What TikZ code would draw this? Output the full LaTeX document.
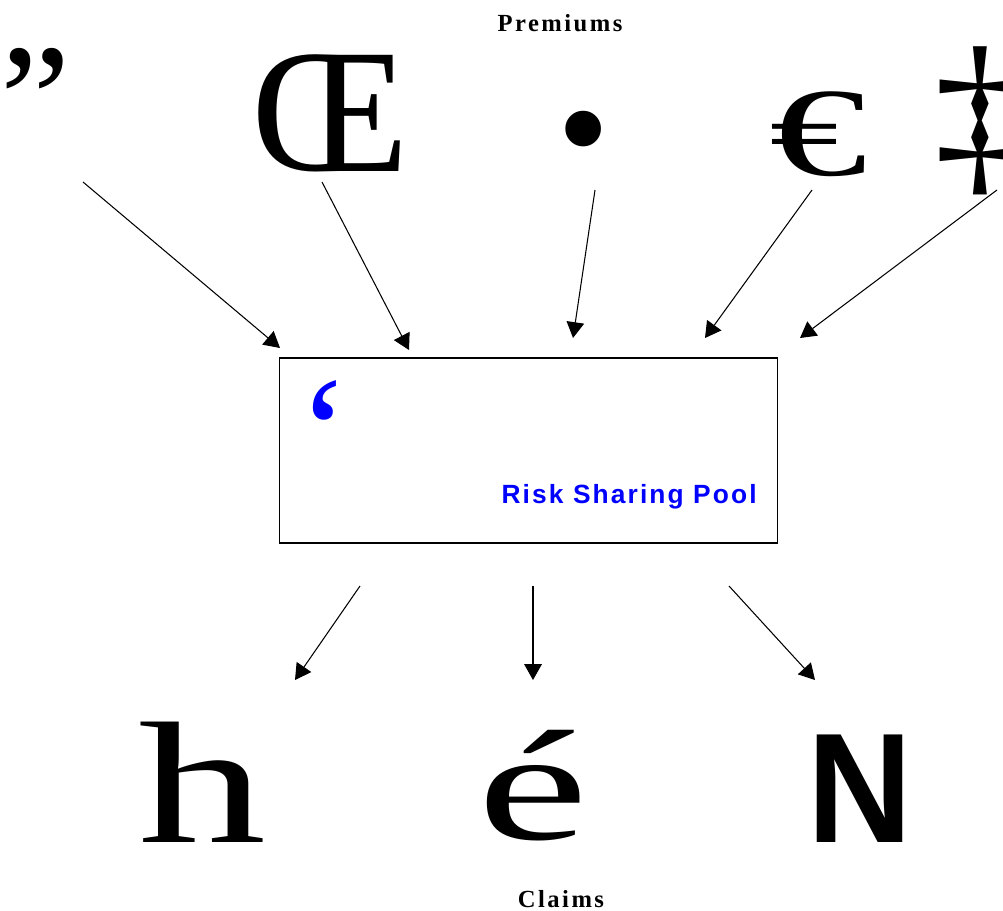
\documentclass[tikz,border=0pt]{standalone}
\usepackage{fontspec}
\usepackage{graphicx}
\setmainfont{Liberation Serif}
\newfontfamily\sansfont{Liberation Sans}
\newfontfamily\captionfont[LetterSpace=10]{Liberation Serif}
\newfontfamily\poolfont[LetterSpace=8]{Liberation Sans}
\usetikzlibrary{arrows.meta}

\begin{document}
\begin{tikzpicture}[x=0.02cm, y=-0.02cm, glyph/.style={inner sep=0pt, font=\fontsize{104}{104}\selectfont}, caption/.style={inner sep=0pt, anchor=base, font=\captionfont\bfseries\fontsize{14}{16}\selectfont}, pool/.style={draw, line width=0.6pt, minimum width=9.98cm, minimum height=3.7cm}, flow/.style={-{Triangle[length=9pt, width=10pt]}, line width=0.6pt}]
\useasboundingbox (0,0) rectangle (1003,911);
\node[caption] (premiums) at (560,32) {Premiums};
\node[caption] (claims) at (561,907) {Claims};
% premium payers
\node[glyph, anchor=north, font=\fontsize{90}{90}\selectfont] (p1) at (36,48) {”};
\node[glyph, anchor=base, font=\fontsize{101}{101}\selectfont] (p2) at (330,172) {Œ};
\node[glyph, font=\fontsize{85}{85}\selectfont] (p3) at (584,145) {•};
\node[glyph, font=\fontsize{72}{72}\selectfont] (p4) at (819,134) {\scalebox{1.55}[1]{€}};
\node[glyph] (p5) at (980,121) {‡};
% the pool
\node[pool] (pool) at (528.5,450.5) {};
\node[glyph, anchor=north, text=blue, font=\fontsize{88}{88}\selectfont] (mark) at (324,380) {‘};
\node[inner sep=0pt, anchor=base east, text=blue, font=\poolfont\bfseries\fontsize{15}{18}\selectfont] (poolname) at (757,503) {Risk Sharing Pool};
% claimants
\node[glyph, anchor=base] (c1) at (202,842) {\scalebox{1.4}[0.95]{h}};
\node[glyph, anchor=base] (c2) at (533,839) {\scalebox{1.37}[0.86]{é}};
\node[glyph, anchor=base, font=\sansfont\bfseries\fontsize{89}{89}\selectfont] (c3) at (860,842) {\scalebox{0.93}[1]{N}};
\foreach \i/\a/\b/\c/\d in {1/83/182/280/348, 2/322/182/409/350, 3/595/190/573/338, 4/812/190/705/338, 5/997/190/800/338}{\coordinate (in\i) at (\a,\b);\coordinate (to\i) at (\c,\d);\draw[flow] (in\i) -- (to\i);}
\foreach \i/\a/\b/\c/\d in {1/360/586/295/680, 2/533/586/533/680, 3/729/586/815/680}{\coordinate (out\i) at (\a,\b);\coordinate (get\i) at (\c,\d);\draw[flow] (out\i) -- (get\i);}
\end{tikzpicture}
\end{document}
